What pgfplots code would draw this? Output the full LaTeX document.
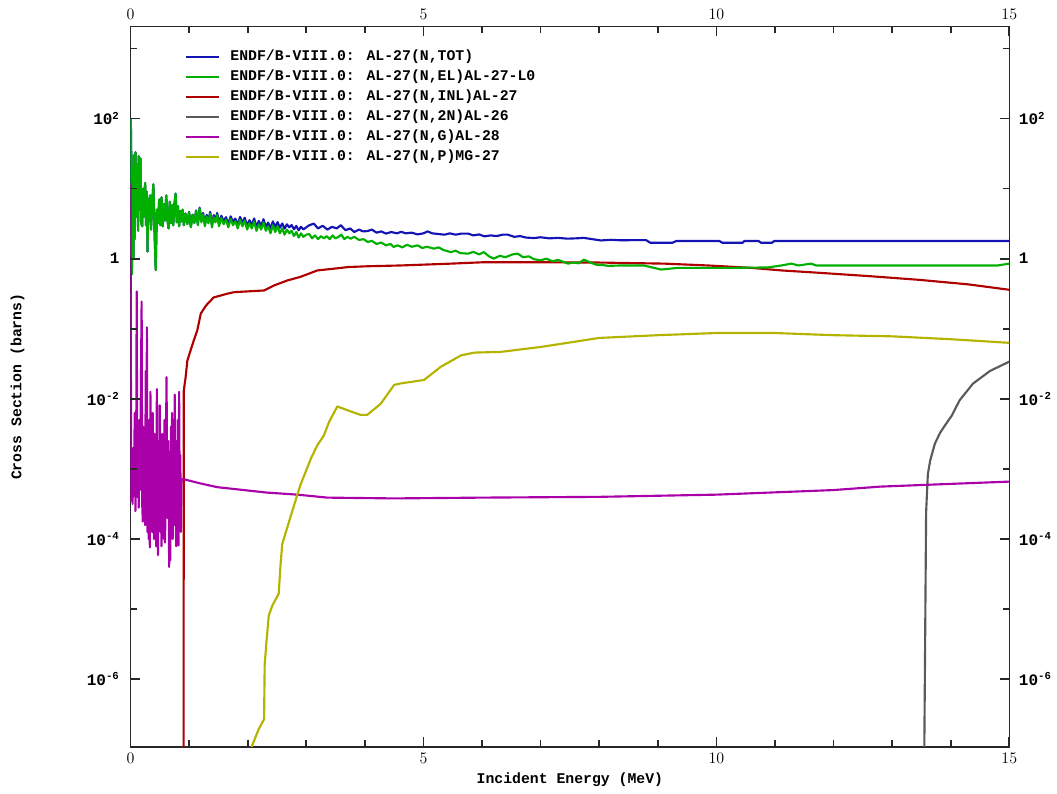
\documentclass[border=0pt]{standalone}
\usepackage{fontspec}
\usepackage{pgfplots}
\usepackage{pgfplotstable}
\pgfplotsset{compat=1.18}
\newfontfamily\plotfont{Liberation Mono}
\definecolor{cTot}{RGB}{20,20,180}
\definecolor{cEl}{RGB}{0,175,0}
\definecolor{cInl}{RGB}{175,0,0}
\definecolor{cTwo}{RGB}{90,90,90}
\definecolor{cGam}{RGB}{170,0,170}
\definecolor{cPro}{RGB}{180,180,0}
\definecolor{cAx}{RGB}{40,40,40}

% resonance region: E, elastic, total
\pgfplotstableread{
E el tot
0.000 100 100
0.008 70 70
0.016 15 15
0.024 0.6 0.6
0.032 20 20
0.040 3 3
0.050 1.0 1.0
0.060 30 30
0.070 1.9 1.9
0.085 33 33
0.100 4 4
0.115 22 22
0.130 2.5 2.5
0.140 29 29
0.155 5 5
0.170 27 27
0.185 3.2 3.2
0.200 2.9 2.9
0.215 10 10
0.230 4 4
0.250 12 12
0.265 3 3
0.280 9 9
0.290 1.26 1.26
0.305 7 7
0.320 3.5 3.5
0.335 8 8
0.350 2.6 2.6
0.370 6 6
0.390 11.5 11.5
0.410 2.5 2.5
0.430 0.69 0.69
0.450 5 5
0.470 3.2 3.2
0.490 7 7
0.510 3 3
0.530 7.5 7.5
0.550 2.9 2.9
0.570 6 6
0.590 3.5 3.5
0.610 8 8
0.630 3.6 3.6
0.650 2.7 2.7
0.670 6.5 6.5
0.690 3.2 3.2
0.710 5.8 5.8
0.730 3 3
0.750 6 6
0.770 8.5 8.5
0.790 3.3 3.3
0.810 5.6 5.6
0.830 2.9 2.9
0.850 4.8 4.8
0.870 3.4 3.4
0.890 5 5
0.910 3 3.01
0.940 4.4 4.42
0.970 3.1 3.14
1.000 4.6 4.65
1.030 2.8 2.85
1.060 4.2 4.26
1.090 3.2 3.27
1.120 4.8 4.89
1.150 3.0 3.1
1.180 5.2 5.34
1.210 3.3 3.47
1.240 4.3 4.49
1.270 2.9 3.1
1.300 4.0 4.22
1.330 3.2 3.44
1.360 4.4 4.65
1.390 2.8 3.07
1.420 3.9 4.18
1.450 3.3 3.59
1.480 4.2 4.49
1.510 2.9 3.2
1.550 3.8 4.1
1.590 3.1 3.41
1.630 3.6 3.91
1.670 2.8 3.12
1.710 3.7 4.02
1.750 3.0 3.33
1.790 3.4 3.73
1.830 2.7 3.03
1.870 3.6 3.94
1.910 2.9 3.24
1.950 3.5 3.84
1.990 2.6 2.94
2.030 3.2 3.54
2.070 2.7 3.04
2.110 3.4 3.74
2.150 2.5 2.85
2.190 3.1 3.45
2.230 2.6 2.95
2.270 3.3 3.65
2.310 2.5 2.86
2.350 2.9 3.27
2.390 2.3 2.69
2.430 3.0 3.41
2.470 2.4 2.83
2.510 2.9 3.33
2.550 2.3 2.76
2.590 2.7 3.18
2.630 2.2 2.68
2.670 2.6 3.09
2.710 2.3 2.80
2.750 2.5 3.02
2.790 2.1 2.63
2.830 2.4 2.93
2.870 2.0 2.54
2.910 2.3 2.85
2.950 2.05 2.62
3.000 2.2 2.8
}\lowres

\pgfplotstableread{
E tot
3.00 2.8
3.05 3.0
3.13 3.16
3.20 2.7
3.28 2.95
3.36 2.6
3.44 2.85
3.52 2.7
3.59 3.0
3.67 2.55
3.75 2.7
3.82 2.4
3.90 2.6
3.97 2.45
4.05 2.48
4.12 2.6
4.20 2.35
4.28 2.45
4.36 2.28
4.45 2.4
4.55 2.3
4.62 2.42
4.70 2.3
4.80 2.35
4.90 2.22
5.00 2.3
5.07 2.45
5.15 2.3
5.25 2.25
5.36 2.2
5.45 2.3
5.55 2.2
5.65 2.28
5.76 2.28
5.85 2.15
5.95 2.22
6.04 2.08
6.15 2.15
6.25 2.1
6.35 2.2
6.44 2.2
6.55 2.05
6.65 2.1
6.75 2.0
6.89 1.97
7.00 2.02
7.15 1.95
7.30 1.98
7.46 1.93
7.60 1.95
7.74 1.98
7.88 1.9
8.03 1.82
8.20 1.86
8.37 1.83
8.60 1.84
8.80 1.84
8.87 1.69
9.25 1.69
9.32 1.79
10.05 1.79
10.10 1.69
10.45 1.69
10.48 1.79
10.72 1.79
10.76 1.69
10.95 1.69
10.99 1.79
15.00 1.79
}\tothigh

\pgfplotstableread{
E el
3.00 2.2
3.05 2.25
3.10 1.95
3.15 2.15
3.20 1.9
3.25 2.1
3.30 1.95
3.35 2.1
3.40 1.9
3.45 2.15
3.50 1.95
3.55 2.05
3.60 2.2
3.65 1.9
3.70 2.05
3.76 1.93
3.82 2.05
3.90 1.85
3.98 1.9
4.05 1.73
4.12 1.8
4.20 1.62
4.28 1.7
4.36 1.55
4.44 1.62
4.49 1.47
4.56 1.55
4.64 1.45
4.72 1.58
4.80 1.48
4.90 1.55
4.98 1.42
5.06 1.48
5.18 1.39
5.26 1.45
5.34 1.33
5.47 1.24
5.55 1.3
5.63 1.2
5.76 1.18
5.85 1.25
5.95 1.15
6.03 1.24
6.12 1.08
6.20 1.0
6.30 1.1
6.40 1.05
6.52 1.15
6.61 1.18
6.70 1.05
6.80 1.08
6.89 0.98
7.00 0.95
7.10 1.0
7.20 0.92
7.30 0.96
7.47 0.85
7.55 0.88
7.65 0.86
7.74 0.97
7.85 0.88
7.95 0.82
8.03 0.82
8.15 0.79
8.37 0.80
8.76 0.80
9.06 0.70
9.35 0.74
10.30 0.74
10.88 0.75
11.11 0.80
11.28 0.85
11.40 0.80
11.62 0.85
11.70 0.80
14.80 0.80
15.00 0.85
}\elhigh

\pgfplotstableread{
E inl
0.905 1e-8
0.910 0.0132
0.940 0.020
0.970 0.035
1.025 0.049
1.080 0.068
1.140 0.095
1.200 0.165
1.290 0.215
1.420 0.28
1.650 0.316
1.770 0.333
2.280 0.352
2.450 0.415
2.680 0.49
2.900 0.55
3.190 0.68
3.470 0.72
3.720 0.76
4.050 0.78
4.610 0.80
5.470 0.85
6.030 0.89
6.890 0.89
8.030 0.88
8.370 0.87
9.110 0.85
9.860 0.80
10.590 0.74
11.110 0.68
11.740 0.63
12.590 0.565
13.450 0.50
14.300 0.43
15.000 0.36
}\inl

\pgfplotstableread{
E n2n
13.54 1e-8
13.56 1.45e-6
13.58 2.4e-4
13.61 8.5e-4
13.65 1.32e-3
13.73 2.3e-3
13.82 3.3e-3
13.92 4.4e-3
14.02 5.8e-3
14.15 9.5e-3
14.38 0.0165
14.67 0.025
15.00 0.034
}\ntwon

\pgfplotstableread{
E ng
0.000 12
0.012 3.55e-4
0.024 1.26e-3
0.036 3.16e-4
0.048 2.0e-3
0.060 5.0e-4
0.072 6.3e-3
0.084 2.5e-4
0.096 1.0e-3
0.106 0.34
0.116 4.0e-4
0.128 2.5e-3
0.140 2.8e-4
0.152 5.0e-3
0.164 5.0e-4
0.176 1.0e-2
0.190 0.245
0.200 3.16e-4
0.210 1.78e-4
0.220 4.0e-3
0.230 2.5e-4
0.240 1.26e-3
0.250 1.58e-4
0.260 0.025
0.270 4.0e-4
0.280 0.105
0.290 1.26e-4
0.300 5.0e-3
0.310 1.0e-4
0.320 2.5e-3
0.330 7.6e-5
0.340 0.0126
0.350 3.16e-4
0.360 1.58e-3
0.370 1.26e-4
0.380 6.3e-3
0.390 5.0e-4
0.400 1.0e-4
0.410 3.16e-3
0.420 2.0e-4
0.430 7.9e-4
0.440 7.9e-5
0.450 0.0138
0.460 2.5e-4
0.470 5.9e-5
0.480 2.0e-3
0.490 4.0e-4
0.500 8.1e-3
0.510 1.26e-4
0.520 1.0e-3
0.530 7.9e-5
0.540 3.16e-3
0.550 3.16e-4
0.560 1.58e-3
0.570 1.0e-4
0.580 5.0e-3
0.590 8.9e-5
0.600 6.3e-4
0.615 0.0204
0.630 2.0e-4
0.645 2.5e-3
0.660 4.0e-5
0.670 1.0e-3
0.680 5.0e-5
0.690 4.0e-3
0.700 2.5e-4
0.710 6.3e-3
0.720 1.0e-4
0.730 1.26e-3
0.740 1.58e-4
0.755 0.0115
0.770 4.0e-4
0.780 7.9e-5
0.790 2.5e-3
0.800 2.0e-4
0.810 5.0e-3
0.820 8.1e-5
0.830 0.0126
0.840 3.16e-4
0.850 1.58e-3
0.860 1.26e-4
0.870 6.9e-4
0.890 7.2e-4
1.20 6.2e-4
1.48 5.5e-4
2.33 4.6e-4
2.85 4.3e-4
3.36 3.9e-4
4.50 3.8e-4
6.00 3.9e-4
8.00 4.0e-4
10.00 4.3e-4
12.00 5.0e-4
12.80 5.6e-4
15.00 6.6e-4
}\ngam

\pgfplotstableread{
E np
2.00 7.0e-8
2.05 1.0e-7
2.19 1.95e-7
2.28 2.69e-7
2.29 1.58e-6
2.32 3.39e-6
2.36 8.1e-6
2.42 1.12e-5
2.53 1.66e-5
2.56 4.2e-5
2.59 8.5e-5
2.67 1.41e-4
2.79 3.0e-4
2.90 5.9e-4
3.08 1.41e-3
3.19 2.19e-3
3.30 3.0e-3
3.39 4.7e-3
3.53 7.8e-3
3.70 6.9e-3
3.93 5.9e-3
4.04 5.9e-3
4.27 8.5e-3
4.50 0.0158
4.61 0.0166
5.01 0.0186
5.30 0.0288
5.64 0.0417
5.87 0.0457
6.32 0.0468
7.00 0.055
8.00 0.074
9.00 0.081
10.00 0.087
11.00 0.087
12.00 0.081
13.00 0.078
14.00 0.071
15.00 0.063
}\nprot

\begin{document}
\begin{tikzpicture}
\path[use as bounding box] (-97.875pt,-34.725pt) rectangle (694.875pt,560.025pt);
\begin{axis}[
  scale only axis, width=659.1pt, height=540pt,
  at={(0pt,0pt)}, anchor=south west,
  xmin=0, xmax=15, ymode=log, ymin=1.09e-7, ymax=2.04e3,
  xtick={0,5,10,15},
  minor xtick={1,2,3,4,6,7,8,9,11,12,13,14},
  ytick={1e-6,1e-4,1e-2,1,1e2},
  yticklabels={10\textsuperscript{-6},10\textsuperscript{-4},10\textsuperscript{-2},1,10\textsuperscript{2}},
  minor ytick={1e-5,1e-3,1e-1,1e1,1e3},
  tick align=inside,
  major tick length=7pt, minor tick length=4.5pt,
  xtick style={color=cAx, line width=1.3pt},
  ytick style={color=cAx, line width=1.3pt},
  axis line style={draw=cAx, line width=1.2pt},
  ticklabel style={font=\fontsize{12}{14}\plotfont\bfseries, inner sep=0pt},
  xticklabel style={yshift=-5pt},
  yticklabel style={xshift=-8pt},
  xlabel={Incident Energy (MeV)},
  ylabel={Cross Section (barns)},
  label style={font=\fontsize{11.1}{13}\plotfont\bfseries},
  xlabel style={at={(axis description cs:0.5,-0.0463)}, anchor=center},
  ylabel style={at={(axis description cs:-0.1286,0.5)}, anchor=center},
  legend style={at={(rel axis cs:0.062,0.9676)}, anchor=north west, draw=none, fill=none,
    inner sep=0pt, outer sep=0pt, row sep=5pt,
    font=\fontsize{11.1}{13}\plotfont\bfseries,
    nodes={inner sep=0pt, text height=8pt, text depth=2pt},
    /tikz/every odd column/.append style={column sep=7.5pt}},
  legend cell align=left,
  legend image code/.code={\draw[#1, line width=1.6pt] (0pt,0pt) -- (25pt,0pt);},
  every axis plot/.append style={line width=1.6pt, line join=round},
]
\addplot[cTot] table[x=E,y=tot] {\lowres};
\addlegendentry{ENDF/B-VIII.0: AL-27(N,TOT)}
\addplot[cEl] table[x=E,y=el] {\lowres};
\addlegendentry{ENDF/B-VIII.0: AL-27(N,EL)AL-27-L0}
\addplot[cInl] table[x=E,y=inl] {\inl};
\addlegendentry{ENDF/B-VIII.0: AL-27(N,INL)AL-27}
\addplot[cTwo] table[x=E,y=n2n] {\ntwon};
\addlegendentry{ENDF/B-VIII.0: AL-27(N,2N)AL-26}
\addplot[cGam] table[x=E,y=ng] {\ngam};
\addlegendentry{ENDF/B-VIII.0: AL-27(N,G)AL-28}
\addplot[cPro] table[x=E,y=np] {\nprot};
\addlegendentry{ENDF/B-VIII.0: AL-27(N,P)MG-27}
\addplot[cTot, forget plot] table[x=E,y=tot] {\tothigh};
\addplot[cEl, forget plot] table[x=E,y=el] {\elhigh};
\end{axis}
\begin{axis}[
  scale only axis, width=659.1pt, height=540pt,
  at={(0pt,0pt)}, anchor=south west,
  xmin=0, xmax=15, ymode=log, ymin=1.09e-7, ymax=2.04e3,
  xtick={0,5,10,15},
  ytick={1e-6,1e-4,1e-2,1,1e2},
  yticklabels={10\textsuperscript{-6},10\textsuperscript{-4},10\textsuperscript{-2},1,10\textsuperscript{2}},
  major tick length=0pt, minor tick length=0pt,
  axis line style={draw=none},
  ticklabel style={font=\fontsize{12}{14}\plotfont\bfseries, inner sep=0pt},
  xticklabel pos=upper, yticklabel pos=right,
  xticklabel style={yshift=5pt},
  yticklabel style={xshift=7pt},
]
\addplot[draw=none, forget plot] coordinates {(1,1)};
\end{axis}
% frame tick marks drawn on the axis frame (0,0)--(659.1pt,540pt)
\foreach \tx in {219.7,439.4}{
  \draw[cAx, line width=1.3pt] (\tx pt,0pt) -- ++(0pt,7pt);
  \draw[cAx, line width=1.3pt] (\tx pt,540pt) -- ++(0pt,-7pt);
}
\foreach \tx in {43.94,87.88,131.82,175.76,263.64,307.58,351.52,395.46,483.34,527.28,571.22,615.16}{
  \draw[cAx, line width=1.3pt] (\tx pt,0pt) -- ++(0pt,5pt);
  \draw[cAx, line width=1.3pt] (\tx pt,540pt) -- ++(0pt,-5pt);
}
\foreach \ty in {50.6,155.74,260.88,366.02,471.16}{
  \draw[cAx, line width=1.3pt] (0pt,\ty pt) -- ++(7pt,0pt);
  \draw[cAx, line width=1.3pt] (659.1pt,\ty pt) -- ++(-7pt,0pt);
}
\foreach \ty in {103.17,208.31,313.45,418.59,523.73}{
  \draw[cAx, line width=1.3pt] (0pt,\ty pt) -- ++(5pt,0pt);
  \draw[cAx, line width=1.3pt] (659.1pt,\ty pt) -- ++(-5pt,0pt);
}
\end{tikzpicture}
\end{document}
